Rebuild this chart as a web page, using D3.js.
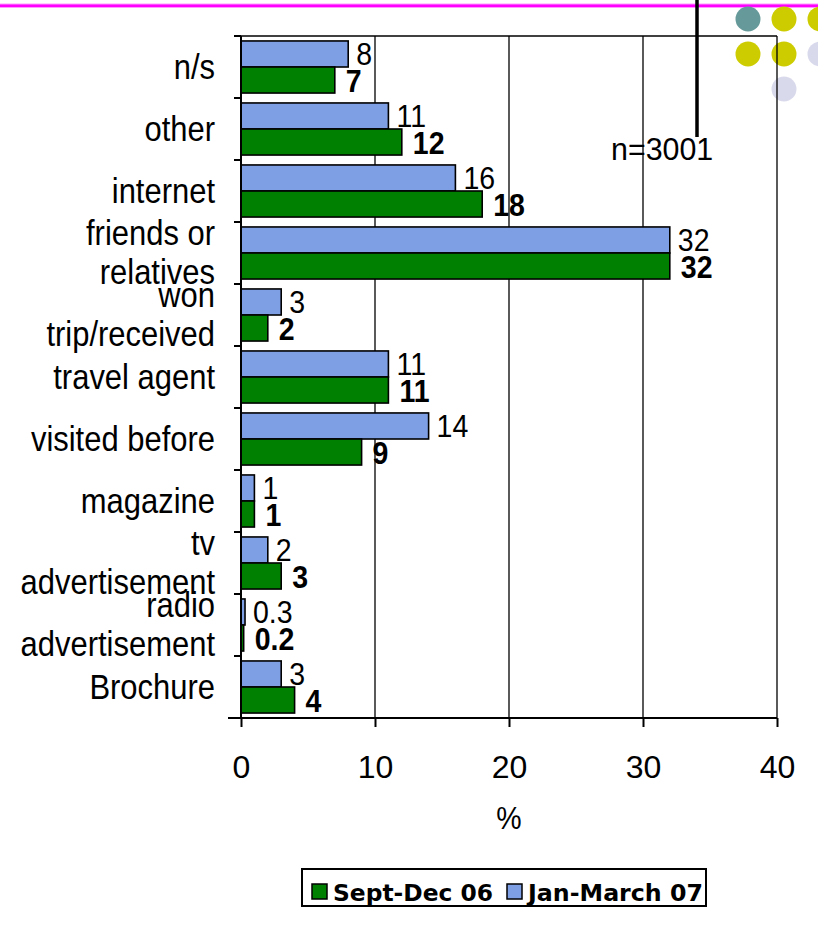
<!DOCTYPE html>
<html>
<head>
<meta charset="utf-8">
<script src="https://cdn.jsdelivr.net/npm/d3@7"></script>
<style>
  body { margin: 0; background: #fff; }
  svg { display: block; }
</style>
</head>
<body>
<div id="chart"></div>
<script>
// categories, top to bottom
var categories = ['n/s', 'other', 'internet', 'friends or relatives', 'won trip/received',
  'travel agent', 'visited before', 'magazine', 'tv advertisement', 'radio advertisement', 'Brochure'];
// label lines for each category
var catLines = [['n/s'], ['other'], ['internet'], ['friends or', 'relatives'], ['won', 'trip/received'],
  ['travel agent'], ['visited before'], ['magazine'], ['tv', 'advertisement'], ['radio', 'advertisement'], ['Brochure']];
var janMarch07 = [8, 11, 16, 32, 3, 11, 14, 1, 2, 0.3, 3];
var septDec06 = [7, 12, 18, 32, 2, 11, 9, 1, 3, 0.2, 4];
var seriesNames = ['Sept-Dec 06', 'Jan-March 07'];
var xTicks = [0, 10, 20, 30, 40];
var noteText = 'n=3001';
var dotColors = ['#669999', '#cccc00', '#cccc00', '#cccc00', '#cccc00', '#d9d9ec', '#d9d9ec'];

var W = 818, H = 931;
var plot = {left: 241, right: 777, top: 36, bottom: 718};
var font = 'Liberation Sans, Arial, sans-serif';

var svg = d3.select('#chart').append('svg')
  .attr('width', W).attr('height', H);

// decoration: magenta rule, dots
svg.append('rect').attr('x', 0).attr('y', 3.5).attr('width', W).attr('height', 4.5).attr('fill', '#ff99ff');
svg.append('rect').attr('x', 0).attr('y', 4.5).attr('width', W).attr('height', 2.5).attr('fill', '#ff00ff');

var dotPos = [[748, 19], [784, 19], [820, 19], [748, 54], [784, 54], [820, 54], [784, 89]];
svg.selectAll('circle.dot').data(dotPos).enter().append('circle')
  .attr('class', 'dot')
  .attr('cx', function(d) { return d[0]; })
  .attr('cy', function(d) { return d[1]; })
  .attr('r', 12.5)
  .attr('fill', function(d, i) { return dotColors[i]; });

// scales
var x = d3.scaleLinear().domain([0, 40]).range([plot.left, plot.right]);
var y = d3.scaleBand().domain(categories).range([plot.top, plot.bottom]).paddingInner(0.16).paddingOuter(0.08);

// gridlines and top border
var g = svg.append('g');
g.selectAll('line.grid').data(xTicks.slice(1)).enter().append('line')
  .attr('x1', function(d) { return x(d); }).attr('x2', function(d) { return x(d); })
  .attr('y1', plot.top).attr('y2', plot.bottom)
  .attr('stroke', '#000').attr('stroke-width', 1.3);
g.append('line').attr('x1', plot.left - 7).attr('x2', plot.right)
  .attr('y1', plot.top).attr('y2', plot.top).attr('stroke', '#000').attr('stroke-width', 1.5);

// bars
var bh = y.bandwidth() / 2;
var rows = categories.map(function(c, i) { return {cat: c, jan: janMarch07[i], sept: septDec06[i]}; });

g.selectAll('rect.jan').data(rows).enter().append('rect')
  .attr('x', x(0)).attr('y', function(d) { return y(d.cat); })
  .attr('width', function(d) { return x(d.jan) - x(0); }).attr('height', bh)
  .attr('fill', '#7f9fe5').attr('stroke', '#000').attr('stroke-width', 1.6);
g.selectAll('rect.sept').data(rows).enter().append('rect')
  .attr('x', x(0)).attr('y', function(d) { return y(d.cat) + bh; })
  .attr('width', function(d) { return x(d.sept) - x(0); }).attr('height', bh)
  .attr('fill', '#008000').attr('stroke', '#000').attr('stroke-width', 1.6);

// value labels (slightly condensed like the original)
g.selectAll('text.jan').data(rows).enter().append('text')
  .attr('transform', function(d) { return 'translate(' + (x(d.jan) + 8) + ',' + (y(d.cat) + bh / 2 + 11) + ') scale(0.92,1)'; })
  .attr('font-family', font).attr('font-size', 31)
  .text(function(d) { return d.jan; });
g.selectAll('text.sept').data(rows).enter().append('text')
  .attr('transform', function(d) { return 'translate(' + (x(d.sept) + 11) + ',' + (y(d.cat) + bh * 1.5 + 12) + ') scale(0.92,1)'; })
  .attr('font-family', font).attr('font-size', 31).attr('font-weight', 'bold')
  .text(function(d) { return d.sept; });

// y axis
var yAxisG = svg.append('g').attr('transform', 'translate(' + plot.left + ',0)');
yAxisG.append('line').attr('x1', 0).attr('x2', 0).attr('y1', plot.top).attr('y2', plot.bottom)
  .attr('stroke', '#000').attr('stroke-width', 2);
var step = (plot.bottom - plot.top) / categories.length;
yAxisG.selectAll('line.tick').data(d3.range(categories.length + 1)).enter().append('line')
  .attr('x1', -7).attr('x2', 0)
  .attr('y1', function(i) { return plot.top + i * step; })
  .attr('y2', function(i) { return plot.top + i * step; })
  .attr('stroke', '#000').attr('stroke-width', 2);

var lab = yAxisG.selectAll('text.cat').data(categories).enter().append('text')
  .attr('text-anchor', 'end').attr('font-family', font).attr('font-size', 36)
  .attr('transform', function(d, i) { return 'translate(-26,' + (plot.top + (i + 0.5) * step) + ') scale(0.86,1)'; });
lab.each(function(d, i) {
  var lines = catLines[i];
  var t = d3.select(this);
  lines.forEach(function(l, k) {
    var off = lines.length === 1 ? 12 : (k === 0 ? -8 : 31);
    t.append('tspan').attr('x', 0).attr('y', off).text(l);
  });
});

// x axis
var xAxis = d3.axisBottom(x).tickValues(xTicks).tickSize(9).tickPadding(27);
var xAxisG = svg.append('g').attr('transform', 'translate(0,' + plot.bottom + ')').call(xAxis);
xAxisG.select('.domain').attr('d', 'M' + (plot.left - 13) + ',0H' + plot.right).attr('stroke-width', 2);
xAxisG.selectAll('.tick line').attr('stroke-width', 2);
xAxisG.selectAll('.tick text').attr('font-family', font).attr('font-size', 32).attr('fill', '#000')
  .attr('dy', null).attr('y', 60);

svg.append('text').attr('transform', 'translate(' + x(20) + ',829) scale(0.92,1)').attr('text-anchor', 'middle')
  .attr('font-family', font).attr('font-size', 31).text('%');

// note and vertical line
svg.append('line').attr('x1', 697).attr('x2', 697).attr('y1', 0).attr('y2', 137)
  .attr('stroke', '#000').attr('stroke-width', 3.5);
svg.append('text').attr('transform', 'translate(611,160) scale(0.95,1)').attr('font-family', font).attr('font-size', 32)
  .text(noteText);

// legend
var leg = svg.append('g');
leg.append('rect').attr('x', 302).attr('y', 869).attr('width', 404).attr('height', 37)
  .attr('fill', '#fff').attr('stroke', '#000').attr('stroke-width', 2);
var legColors = ['#008000', '#7f9fe5'];
var legX = [312, 507];
var legLen = [160, 175];
seriesNames.forEach(function(s, i) {
  leg.append('rect').attr('x', legX[i]).attr('y', 884).attr('width', 15).attr('height', 15)
    .attr('fill', legColors[i]).attr('stroke', '#000').attr('stroke-width', 1.5);
  leg.append('text').attr('x', legX[i] + 21).attr('y', 901)
    .attr('font-family', 'DejaVu Sans, Verdana, sans-serif').attr('font-weight', 'bold')
    .attr('font-size', 23).attr('textLength', legLen[i]).attr('lengthAdjust', 'spacingAndGlyphs')
    .text(s);
});
</script>
</body>
</html>
